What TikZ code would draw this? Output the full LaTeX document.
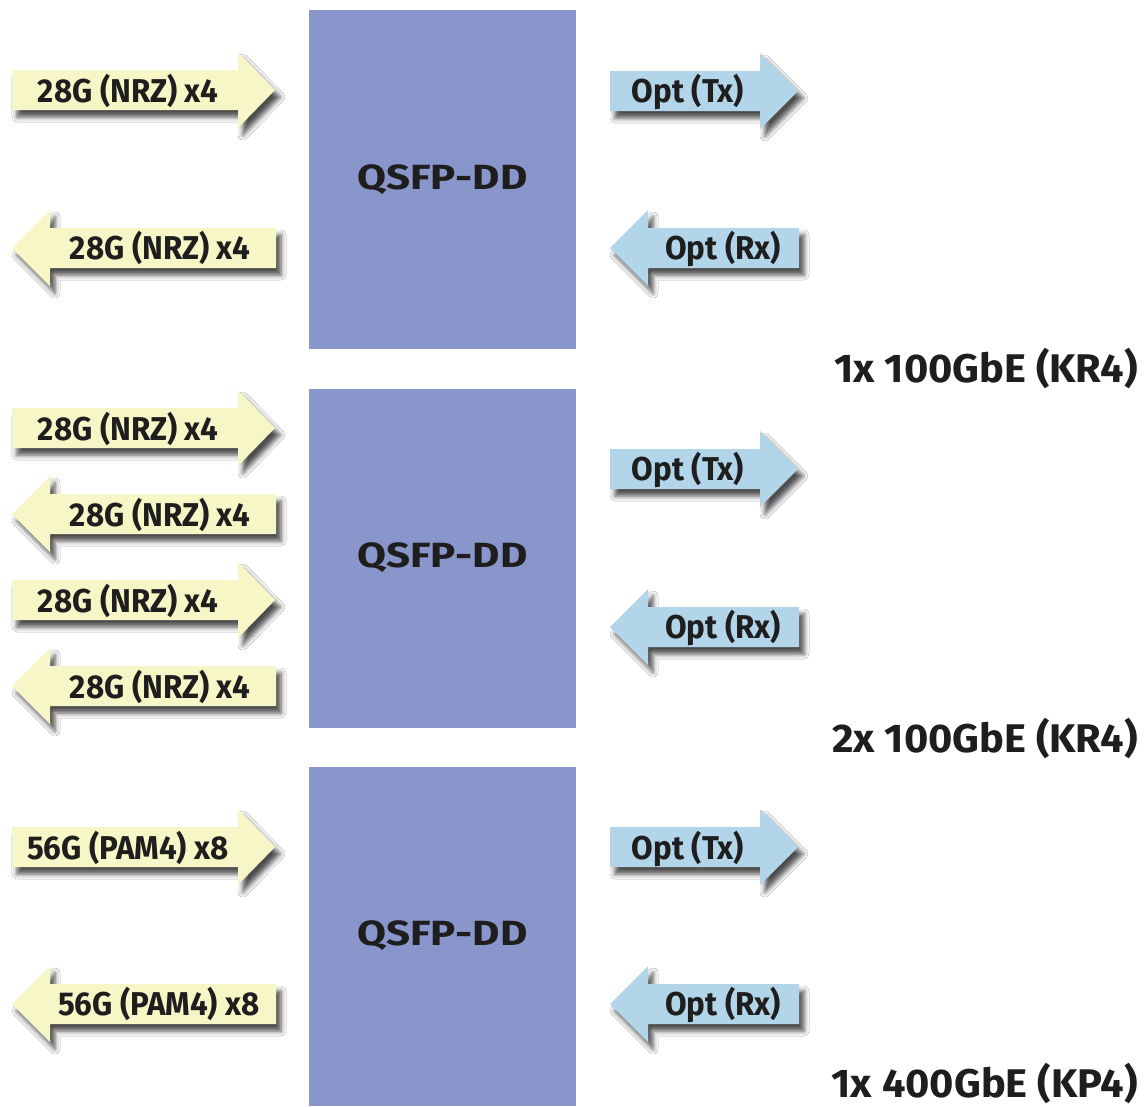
\documentclass[tikz,border=0pt]{standalone}
\usepackage{fontspec}
\setmainfont{Fira Sans}
\newfontfamily\arrfont[FakeStretch=0.95]{Fira Sans}
\newfontfamily\qfont[FakeStretch=1.2]{Fira Sans}
\newfontfamily\labfont[FakeStretch=1.04]{Fira Sans}
\usetikzlibrary{shadows.blur}
\definecolor{boxblue}{HTML}{8896CB}
\definecolor{arryel}{HTML}{F7F6C6}
\definecolor{arrblu}{HTML}{B3D5E9}
\definecolor{txt}{HTML}{1E1E1E}
\tikzset{
  x=1pt, y=-1pt,
  qbox/.style={fill=boxblue, draw=none},
  arrbase/.style={draw=none, blur shadow={shadow xshift=5pt, shadow yshift=-7pt, shadow blur radius=5pt, shadow opacity=70}},
  yarr/.style={arrbase, fill=arryel},
  barr/.style={arrbase, fill=arrblu},
  arrtext/.style={font=\arrfont\bfseries\fontsize{33}{33}\selectfont, text=txt, inner sep=0pt, anchor=base},
  qtext/.style={font=\qfont\bfseries\fontsize{35}{35}\selectfont, text=txt, inner sep=0pt, anchor=base},
  ltext/.style={font=\labfont\bfseries\fontsize{40}{40}\selectfont, text=txt, inner sep=0pt, anchor=base east},
}
% right arrow: #1 style, #2 tail x, #3 head base x, #4 tip x, #5 center y
\newcommand\rarr[5]{\fill[#1] (#2,#5-20) -- (#3,#5-20) -- (#3,#5-38) -- (#4,#5) -- (#3,#5+38) -- (#3,#5+20) -- (#2,#5+20) -- cycle;}
% left arrow: #1 style, #2 tip x, #3 head base x, #4 tail x, #5 center y
\newcommand\larr[5]{\fill[#1] (#4,#5-20) -- (#3,#5-20) -- (#3,#5-38) -- (#2,#5) -- (#3,#5+38) -- (#3,#5+20) -- (#4,#5+20) -- cycle;}
\begin{document}
\begin{tikzpicture}
\useasboundingbox (0,0) rectangle (1148,1106);
\fill[white] (0,0) rectangle (1148,1106);
% boxes
\fill[qbox] (309,10) rectangle (576,349);
\fill[qbox] (309,389) rectangle (576,728);
\fill[qbox] (309,767) rectangle (576,1106);
\node[qtext] (q1) at (442.5,189) {QSFP-DD};
\node[qtext] (q2) at (442.5,567) {QSFP-DD};
\node[qtext] (q3) at (442.5,945) {QSFP-DD};
% group 1
\rarr{yarr}{12}{238}{275}{90}
\node[arrtext] (a1) at (128,102) {28G (NRZ) x4};
\larr{yarr}{12}{50}{276}{248}
\node[arrtext] (a2) at (160,259) {28G (NRZ) x4};
\rarr{barr}{610}{760}{798}{91}
\node[arrtext] (t1) at (688,102) {Opt (Tx)};
\larr{barr}{610}{648}{799}{248}
\node[arrtext] (r1) at (723,259) {Opt (Rx)};
% group 2
\rarr{yarr}{12}{238}{275}{428}
\node[arrtext] (a3) at (128,440) {28G (NRZ) x4};
\larr{yarr}{12}{50}{276}{514}
\node[arrtext] (a4) at (160,526) {28G (NRZ) x4};
\rarr{yarr}{12}{238}{275}{600}
\node[arrtext] (a5) at (128,612) {28G (NRZ) x4};
\larr{yarr}{12}{50}{276}{686}
\node[arrtext] (a6) at (160,698) {28G (NRZ) x4};
\rarr{barr}{610}{760}{798}{469}
\node[arrtext] (t2) at (688,480) {Opt (Tx)};
\larr{barr}{610}{648}{799}{627}
\node[arrtext] (r2) at (723,638) {Opt (Rx)};
% group 3
\rarr{yarr}{12}{238}{275}{847}
\node[arrtext] (a7) at (128,859) {56G (PAM4) x8};
\larr{yarr}{12}{50}{276}{1004}
\node[arrtext] (a8) at (159,1015) {56G (PAM4) x8};
\rarr{barr}{610}{760}{798}{847}
\node[arrtext] (t3) at (688,859) {Opt (Tx)};
\larr{barr}{610}{648}{799}{1004}
\node[arrtext] (r3) at (723,1015) {Opt (Rx)};
% labels
\node[ltext] (l1) at (1138,382) {1x 100GbE (KR4)};
\node[ltext] (l2) at (1138,752) {2x 100GbE (KR4)};
\node[ltext] (l3) at (1138,1097) {1x 400GbE (KP4)};
\end{tikzpicture}
\end{document}
